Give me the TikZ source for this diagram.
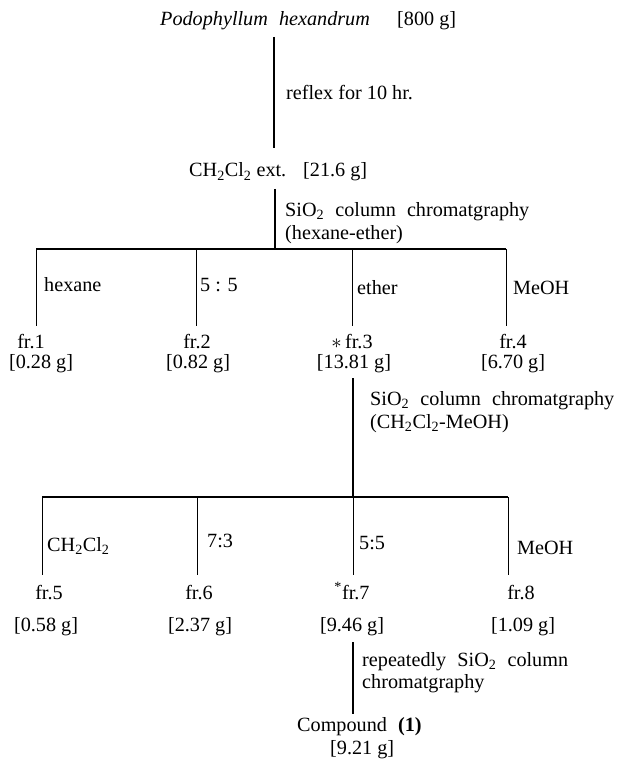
\documentclass[tikz,border=0pt]{standalone}
\usepackage{fontspec}
\setmainfont{Liberation Serif}
\newcommand{\wsp}{\hspace{0.55em}}
\begin{document}
\begin{tikzpicture}[x=1pt,y=-1pt,
  every node/.style={inner sep=0pt, font=\fontsize{20.2}{22}\selectfont},
  txt/.style={anchor=base west},
  ctr/.style={anchor=base},
  ln/.style={line width=1.1pt},
  thin/.style={line width=0.9pt}]
\useasboundingbox (0,0) rectangle (616,759);

% --- top ---
\node[txt] (src) at (160,26) {\textit{Podophyllum}\wsp\textit{hexandrum}};
\node[txt] (srcw) at (397,26) {[800 g]};
\coordinate (a1) at (274,37);
\coordinate (a2) at (274,148);
\draw[ln] (a1) -- (a2);
\node[txt] (r1) at (286,100) {reflex for 10 hr.};

\node[txt] (ext) at (189,177) {CH\textsubscript{2}Cl\textsubscript{2} ext.};
\node[txt] (extw) at (303,177) {[21.6 g]};

% --- first column ---
\coordinate (b1) at (275,189);
\coordinate (b2) at (275,249);
\draw[ln] (b1) -- (b2);
\node[txt] (s1) at (285,216) {SiO\textsubscript{2}\wsp column\wsp chromatgraphy};
\node[txt] (s1b) at (285,239) {(hexane-ether)};

\coordinate (h1) at (36,249);
\coordinate (h4) at (506,249);
\draw[ln] (h1) -- (h4);
\coordinate (d1) at (36,326);
\coordinate (d2t) at (196,249); \coordinate (d2) at (196,326);
\coordinate (d3t) at (352,249); \coordinate (d3) at (352,326);
\coordinate (d4) at (506,326);
\draw[thin] (h1) -- (d1);
\draw[thin] (d2t) -- (d2);
\draw[thin] (d3t) -- (d3);
\draw[thin] (h4) -- (d4);
\node[txt] (e1) at (44,291) {hexane};
\node[txt] (e2) at (200,291) {5 : 5};
\node[txt] (e3) at (357,294) {ether};
\node[txt] (e4) at (513,294) {MeOH};

\node[ctr] (f1) at (31,348) {fr.1};
\node[ctr] (f1w) at (41,368) {[0.28 g]};
\node[ctr] (f2) at (197,348) {fr.2};
\node[ctr] (f2w) at (198,368) {[0.82 g]};
\node[ctr] (f3) at (352,348) {$\ast$\,fr.3};
\node[ctr] (f3w) at (354,368) {[13.81 g]};
\node[ctr] (f4) at (513,348) {fr.4};
\node[ctr] (f4w) at (513,368) {[6.70 g]};

% --- second column ---
\coordinate (c1) at (353,378);
\coordinate (c2) at (353,497);
\draw[ln] (c1) -- (c2);
\node[txt] (s2) at (370,405) {SiO\textsubscript{2}\wsp column\wsp chromatgraphy};
\node[txt] (s2b) at (370,428) {(CH\textsubscript{2}Cl\textsubscript{2}-MeOH)};

\coordinate (k1) at (42,497);
\coordinate (k4) at (508,497);
\draw[ln] (k1) -- (k4);
\coordinate (m1) at (42,575);
\coordinate (m2t) at (197,497); \coordinate (m2) at (197,575);
\coordinate (m3t) at (353,497); \coordinate (m3) at (353,575);
\coordinate (m4) at (508,575);
\draw[thin] (k1) -- (m1);
\draw[thin] (m2t) -- (m2);
\draw[thin] (m3t) -- (m3);
\draw[thin] (k4) -- (m4);
\node[txt] (g1) at (47,551) {CH\textsubscript{2}Cl\textsubscript{2}};
\node[txt] (g2) at (207,547) {7:3};
\node[txt] (g3) at (359,549) {5:5};
\node[txt] (g4) at (517,554) {MeOH};

\node[ctr] (f5) at (49,599) {fr.5};
\node[ctr] (f5w) at (46,631) {[0.58 g]};
\node[ctr] (f6) at (199,599) {fr.6};
\node[ctr] (f6w) at (200,631) {[2.37 g]};
\node[ctr] (f7) at (352,599) {\textsuperscript{*}fr.7};
\node[ctr] (f7w) at (352,631) {[9.46 g]};
\node[ctr] (f8) at (521,599) {fr.8};
\node[ctr] (f8w) at (523,631) {[1.09 g]};

% --- final ---
\coordinate (p1) at (353,642);
\coordinate (p2) at (353,714);
\draw[ln] (p1) -- (p2);
\node[txt] (s3) at (362,666) {repeatedly\wsp SiO\textsubscript{2}\wsp column};
\node[txt] (s3b) at (362,688) {chromatgraphy};

\node[txt] (cp) at (297,731) {Compound\wsp\textbf{(1)}};
\node[txt] (cpw) at (330,754) {[9.21 g]};
\end{tikzpicture}
\end{document}
